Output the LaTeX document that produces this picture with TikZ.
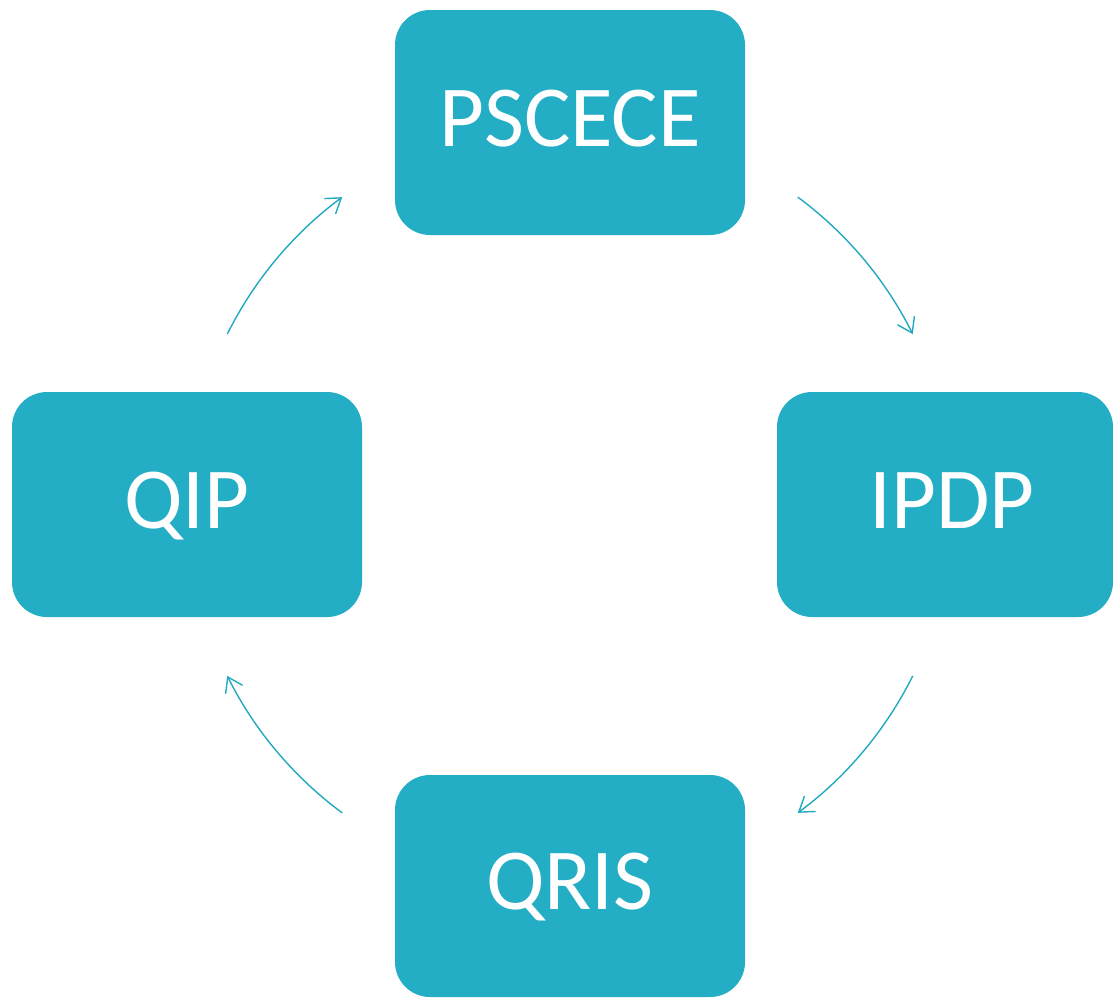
\documentclass[tikz,border=0pt]{standalone}
\usepackage{fontspec}
\setmainfont{Carlito}
\usetikzlibrary{arrows.meta,calc}
\definecolor{teal1}{HTML}{23AEC5}
\definecolor{teal2}{HTML}{22A9C0}
\tikzset{
  box/.style={rectangle, rounded corners=35pt, fill=teal1, draw=none, inner sep=0pt,
    text=white, font=\fontsize{87}{92}\selectfont, text height=56pt, text depth=9pt,
    minimum width=350pt, minimum height=225pt},
  cyc/.style={draw=teal2, line width=1.4pt, -{Straight Barb[length=14pt,width=19pt,line width=1.4pt]}}
}
\begin{document}
\begin{tikzpicture}[x=1pt,y=1pt]
\useasboundingbox (0,0) rectangle (1113,-997);
\node[box] (pscece) at (570,-122.5) {PSCECE};
\node[box, minimum width=336pt] (ipdp) at (945,-504.5) {\hspace*{14pt}IPDP};
\node[box, minimum height=222pt] (qris) at (570,-886) {QRIS};
\node[box] (qip) at (187,-504.5) {QIP};
\coordinate (c) at (570,-505);
\coordinate (s1) at ($(c)+(53.5:383)$);
\coordinate (s2) at ($(c)+(-26.5:383)$);
\coordinate (s3) at ($(c)+(-126.5:383)$);
\coordinate (s4) at ($(c)+(153.5:383)$);
\draw[cyc] (s1) arc[start angle=53.5, end angle=26.5, radius=383pt];
\draw[cyc] (s2) arc[start angle=-26.5, end angle=-53.5, radius=383pt];
\draw[cyc] (s3) arc[start angle=-126.5, end angle=-153.5, radius=383pt];
\draw[cyc] (s4) arc[start angle=153.5, end angle=126.5, radius=383pt];
\end{tikzpicture}
\end{document}
